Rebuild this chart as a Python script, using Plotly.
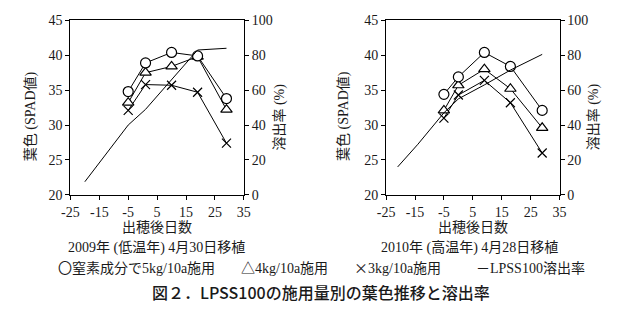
import plotly.graph_objects as go

# ---- data ----
days_2009 = [-5, 1, 10, 19, 29]
n5_2009 = [34.8, 38.9, 40.4, 39.9, 33.8]
n4_2009 = [33.2, 37.5, 38.4, 39.8, 32.2]
n3_2009 = [32.1, 35.8, 35.7, 34.7, 27.4]
lpss_days_2009 = [-20, -5, 1, 19, 29]
lpss_2009 = [7.5, 40, 49, 83, 84]

days_2010 = [-5, 0, 9, 18, 29]
n5_2010 = [34.4, 36.9, 40.4, 38.4, 32.1]
n4_2010 = [32.1, 35.7, 38.0, 35.2, 29.6]
n3_2010 = [31.0, 34.3, 36.4, 33.2, 26.0]
lpss_days_2010 = [-21, -14, -5, 0, 9, 18, 29]
lpss_2010 = [16, 29, 47, 55, 63, 71.5, 80.5]

x_ticks = [-25, -15, -5, 5, 15, 25, 35]
x_ticktext = ["-25", "-15", "-5", "5", "15", "25", "35"]

W, H = 625, 323
SERIF = "Liberation Serif, Noto Sans CJK JP"
CJK = "Noto Sans CJK JP"
TXT = "#1a1a1a"

def px(x):
    return x / W

def py(y):
    return 1 - y / H

fig = go.Figure()

def add_panel(xa, ya, ya2, days, n5, n4, n3, ldays, lvals):
    fig.add_trace(go.Scatter(x=ldays, y=lvals, mode="lines", xaxis=xa, yaxis=ya2,
                             line=dict(color="black", width=1), showlegend=False))
    for vals, sym, sz in [(n3, "x-thin", 9), (n4, "triangle-up", 10), (n5, "circle", 10)]:
        fig.add_trace(go.Scatter(x=days, y=vals, mode="lines+markers", xaxis=xa, yaxis=ya,
                                 line=dict(color="black", width=1),
                                 marker=dict(symbol=sym, size=sz, color="white",
                                             line=dict(color="black", width=1.2)),
                                 showlegend=False))

add_panel("x", "y", "y2", days_2009, n5_2009, n4_2009, n3_2009, lpss_days_2009, lpss_2009)
add_panel("x2", "y3", "y4", days_2010, n5_2010, n4_2010, n3_2010, lpss_days_2010, lpss_2010)

ydom = [py(197), py(14)]
tickfont = dict(family=SERIF, size=14, color=TXT)

def xaxis(dom, anchor):
    return dict(domain=dom, anchor=anchor, range=[-25, 35], tickvals=x_ticks,
                ticktext=x_ticktext,
                ticks="outside", ticklen=4, tickcolor="black", showline=True,
                linecolor="black", linewidth=1, mirror=True, showgrid=False,
                zeroline=False, tickfont=tickfont, fixedrange=True)

def yleft(anchor):
    return dict(domain=ydom, anchor=anchor, range=[20, 45], dtick=5, ticks="outside",
                ticklen=4, tickcolor="black", showline=True, linecolor="black",
                linewidth=1, showgrid=False, zeroline=False, tickfont=tickfont)

def yright(anchor, over):
    return dict(overlaying=over, anchor=anchor, side="right", range=[0, 100], dtick=20,
                ticks="outside", ticklen=4, tickcolor="black", showline=True,
                linecolor="black", linewidth=1, showgrid=False, zeroline=False,
                tickfont=tickfont)

fig.update_layout(
    width=W, height=H, margin=dict(l=0, r=0, t=0, b=0),
    paper_bgcolor="white", plot_bgcolor="white",
    xaxis=xaxis([px(63), px(241)], "y"),
    yaxis=yleft("x"),
    yaxis2=yright("x", "y"),
    xaxis2=xaxis([px(387), px(565)], "y3"),
    yaxis3=yleft("x2"),
    yaxis4=yright("x2", "y3"),
)

ann = []
def text(x, y, s, size=14, xanchor="center", angle=0, family=SERIF, weight=None):
    f = dict(family=family, size=size, color=TXT)
    if weight:
        f["weight"] = weight
    ann.append(dict(x=px(x), y=py(y), xref="paper", yref="paper", text=s, showarrow=False,
                    xanchor=xanchor, yanchor="middle", textangle=angle, font=f))

def sym(s):
    return '<span style="font-family:Noto Sans CJK JP">' + s + '</span>'

# axis titles
for lx, rx, cx in [(22, 278, 152), (343, 600, 476)]:
    text(lx, 114, "葉色 (SPAD値)", angle=-90)
    text(rx, 115, "溶出率 (%)", angle=-90)
    text(cx, 231, "出穂後日数")

text(151, 252, "2009年 (低温年) 4月30日移植")
text(473, 252, "2010年 (高温年) 4月28日移植")

text(48, 273, sym("〇") + "窒素成分で5kg/10a施用", xanchor="left")
text(236, 273, sym("△") + "4kg/10a施用", xanchor="left")
text(352, 273, sym("×") + "3kg/10a施用", xanchor="left")
text(477, 273, sym("－") + "LPSS100溶出率", xanchor="left")

text(320, 299, "図２．LPSS100の施用量別の葉色推移と溶出率", size=16,
     family=CJK, weight=500)

fig.update_layout(annotations=ann)
fig.write_html("out.html")
